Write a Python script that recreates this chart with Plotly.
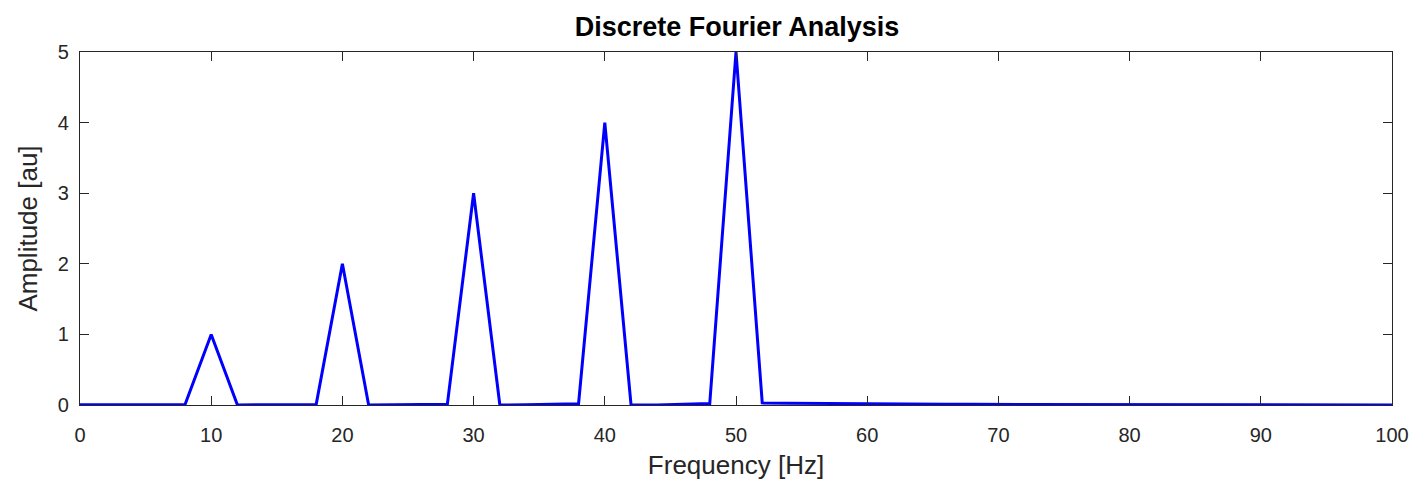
import plotly.graph_objects as go

freq = list(range(0, 102, 2))
amplitude = [
    0.003, 0.003, 0.003, 0.003, 0.004,   # 0,2,4,6,8
    1.0,                                 # 10
    0.0, 0.003, 0.004, 0.006,            # 12,14,16,18
    2.0,                                 # 20
    0.0, 0.004, 0.006, 0.01,             # 22,24,26,28
    3.0,                                 # 30
    0.0, 0.004, 0.008, 0.018,            # 32,34,36,38
    4.0,                                 # 40
    0.0, 0.0, 0.008, 0.022,              # 42,44,46,48
    5.0,                                 # 50
    0.03, 0.026, 0.022, 0.019, 0.016,    # 52..60
    0.014, 0.012, 0.01, 0.009, 0.008,    # 62..70
    0.007, 0.006, 0.005, 0.005, 0.004,   # 72..80
    0.004, 0.003, 0.003, 0.002, 0.002,   # 82..90
    0.002, 0.001, 0.001, 0.001, 0.001,   # 92..100
]
x_ticks = [0, 10, 20, 30, 40, 50, 60, 70, 80, 90, 100]
y_ticks = [0, 1, 2, 3, 4, 5]

FONT = "Liberation Sans, Arial, sans-serif"

fig = go.Figure()
fig.add_trace(go.Scatter(x=freq, y=amplitude, mode="lines",
                         line=dict(color="#0000ff", width=3), hoverinfo="skip"))

axis_common = dict(
    showline=True, linecolor="#262626", linewidth=1.3, mirror="ticks",
    ticks="inside", ticklen=9, tickwidth=1.3, tickcolor="#262626",
    showgrid=False, zeroline=False, automargin=False,
    tickfont=dict(family=FONT, size=20, color="#262626"),
)

fig.update_layout(
    width=1416, height=489,
    margin=dict(l=80, r=24, t=52, b=84),
    paper_bgcolor="white", plot_bgcolor="white",
    showlegend=False,
    title=dict(text="<b>Discrete Fourier Analysis</b>", x=0.5205, xanchor="center",
               y=1 - 27 / 489, yanchor="middle",
               font=dict(family=FONT, size=27, color="#000000")),
    xaxis=dict(range=[0, 100], tickvals=x_ticks, ticktext=[str(v) for v in x_ticks],
               ticklabelstandoff=12,
               title=dict(text="Frequency [Hz]", standoff=10,
                          font=dict(family=FONT, size=26, color="#262626")),
               **axis_common),
    yaxis=dict(range=[0, 5], tickvals=y_ticks, ticktext=[str(v) for v in y_ticks],
               ticklabelstandoff=6,
               title=dict(text="Amplitude [au]", standoff=12,
                          font=dict(family=FONT, size=26, color="#262626")),
               **axis_common),
)

fig.write_html("out.html")
